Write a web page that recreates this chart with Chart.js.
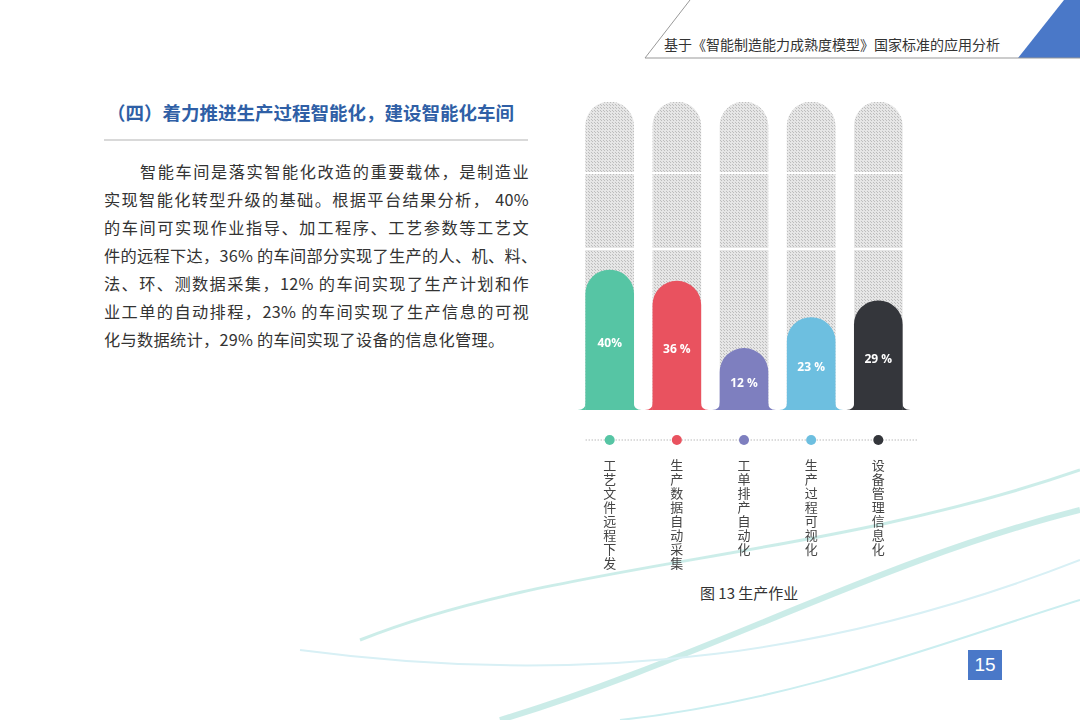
<!DOCTYPE html>
<html><head><meta charset="utf-8">
<script src="https://cdn.jsdelivr.net/npm/chart.js@4"></script>
<style>
body{margin:0;width:1080px;height:720px;position:relative;overflow:hidden;background:#fff;font-family:"Noto Sans CJK SC",sans-serif;}
.abs{position:absolute}
#hdr{left:664px;top:34px;font-size:14px;color:#333;white-space:nowrap}
#title{left:107px;top:99px;font-size:18.5px;color:#2f5fa6;font-weight:bold;white-space:nowrap}
#para{left:104px;top:157px;width:425px;font-size:16.2px;line-height:28px;color:#333}
#para div{white-space:nowrap;text-align:justify;text-align-last:justify;letter-spacing:0.3px}
#para div.first{padding-left:36px}
#para div.last{text-align-last:left}
#cap{left:700px;top:582px;font-size:15px;color:#333}
#pg{left:968px;top:650px;width:34px;height:30px;background:#4a78c8;color:#fff;font-size:19px;text-align:center;line-height:30px;font-family:"Liberation Sans"}
#cv{left:564px;top:95px;width:360px;height:490px}
</style></head><body>
<svg class="abs" style="left:0;top:0" width="1080" height="720">
<polygon points="1064,0 1080,0 1080,58 1018,58" fill="#4a78c8"/>
<polyline points="690,0 645,58 1080,58" fill="none" stroke="#999" stroke-width="1"/>
<line x1="104" y1="140" x2="528" y2="140" stroke="#ccc" stroke-width="1.5"/>
<path d="M360,640 C560,560 820,560 1080,470" fill="none" stroke="#bfe8e3" stroke-width="3" opacity="0.8"/>
<path d="M500,720 C700,660 880,560 1080,510" fill="none" stroke="#a9e0d8" stroke-width="6" opacity="0.6"/>
<path d="M300,650 C600,690 850,650 1080,560" fill="none" stroke="#d8f0f5" stroke-width="2"/>
<path d="M620,720 C800,700 950,640 1080,600" fill="none" stroke="#cbeef0" stroke-width="2"/>
</svg>
<div id="hdr" class="abs">基于《智能制造能力成熟度模型》国家标准的应用分析</div>
<div id="title" class="abs">（四）着力推进生产过程智能化，建设智能化车间</div>
<div id="para" class="abs">
<div class="first">智能车间是落实智能化改造的重要载体，是制造业</div>
<div>实现智能化转型升级的基础。根据平台结果分析， 40%</div>
<div>的车间可实现作业指导、加工程序、工艺参数等工艺文</div>
<div>件的远程下达，36% 的车间部分实现了生产的人、机、料、</div>
<div>法、环、测数据采集，12% 的车间实现了生产计划和作</div>
<div>业工单的自动排程，23% 的车间实现了生产信息的可视</div>
<div class="last">化与数据统计，29% 的车间实现了设备的信息化管理。</div>
</div>
<div id="cap" class="abs">图 13 生产作业</div>
<div id="pg" class="abs">15</div>
<canvas id="cv" class="abs" width="360" height="490"></canvas>
<script>
const categories=["工艺文件远程下发","生产数据自动采集","工单排产自动化","生产过程可视化","设备管理信息化"];
const values=[40,36,12,23,29];
const valueLabels=["40%","36 %","12 %","23 %","29 %"];
const fullValue=[100,100,100,100,100];
const colors=["#56c5a4","#e9525f","#7e7fbf","#6dbfe0","#34363b"];
const gridValues=[47.5,74.6];

const pc=document.createElement('canvas');pc.width=3;pc.height=3;
const px=pc.getContext('2d');px.fillStyle='#e6e6e6';px.fillRect(0,0,3,3);px.fillStyle='#bdbdbd';px.fillRect(0,0,1,1);px.fillRect(1,1,1,1);
const pat=px.createPattern(pc,'repeat');

const extras={id:'extras',
afterDatasetsDraw(c){
 const ctx=c.ctx,m=c.getDatasetMeta(1),base=c.scales.y.getPixelForValue(-10);
 ctx.save();
 m.data.forEach((b,i)=>{
  const l=b.x-b.width/2,r=b.x+b.width/2,f=8;
  ctx.fillStyle=colors[i];
  ctx.beginPath();ctx.moveTo(l,base-f);ctx.quadraticCurveTo(l,base,l-f,base);ctx.lineTo(l,base);ctx.closePath();ctx.fill();
  ctx.beginPath();ctx.moveTo(r,base-f);ctx.quadraticCurveTo(r,base,r+f,base);ctx.lineTo(r,base);ctx.closePath();ctx.fill();
  ctx.fillStyle='#fff';ctx.font='bold 12px "Open Sans"';ctx.textAlign='center';ctx.textBaseline='middle';
  ctx.fillText(valueLabels[i],b.x,(b.y+base)/2+4);
 });
 const ly=base+30;
 ctx.strokeStyle='#999';ctx.setLineDash([1,2]);ctx.lineWidth=1;
 ctx.beginPath();ctx.moveTo(m.data[0].x-24,ly);ctx.lineTo(m.data[4].x+40,ly);ctx.stroke();
 ctx.setLineDash([]);
 m.data.forEach((b,i)=>{ctx.fillStyle=colors[i];ctx.beginPath();ctx.arc(b.x,ly,5,0,Math.PI*2);ctx.fill();});
 ctx.restore();
}};

new Chart(document.getElementById('cv'),{
 type:'bar',
 data:{labels:categories.map(s=>s.split('')),
  datasets:[
   {data:fullValue,base:-10,backgroundColor:pat,barThickness:48,borderRadius:{topLeft:24,topRight:24},borderSkipped:'bottom',order:2,grouped:false},
   {data:values,base:-10,backgroundColor:colors,barThickness:48,borderRadius:{topLeft:24,topRight:24},borderSkipped:'bottom',order:1,grouped:false}
  ]},
 options:{responsive:false,animation:false,devicePixelRatio:1,
  layout:{padding:{top:7,left:0,right:4,bottom:0}},
  plugins:{legend:{display:false},tooltip:{enabled:false}},
  scales:{
   x:{grid:{display:false},border:{display:false},
      ticks:{color:'#444',font:{size:13,family:'"Noto Sans CJK SC"',lineHeight:1.08},padding:40,maxRotation:0,autoSkip:false},
      afterFit:s=>{s.height=175;}},
   y:{display:true,min:-10,max:100,border:{display:false},
      ticks:{display:false},
      afterBuildTicks:s=>{s.ticks=gridValues.map(v=>({value:v}));},
      grid:{z:1,color:'#fff',lineWidth:2,drawTicks:false},
      afterFit:s=>{s.width=0;}}
  }},
 plugins:[extras]
});
</script>
</body></html>
